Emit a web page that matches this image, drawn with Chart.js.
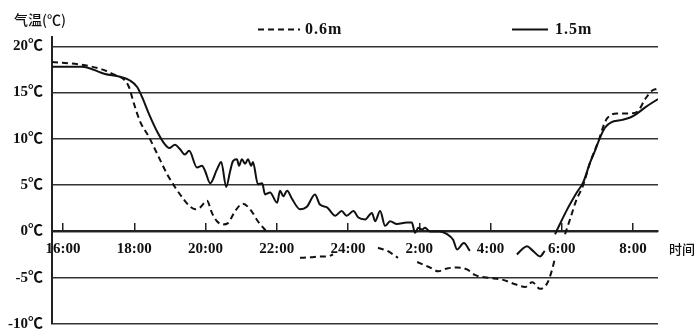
<!DOCTYPE html>
<html><head><meta charset="utf-8">
<script src="https://cdn.jsdelivr.net/npm/chart.js@4/dist/chart.umd.min.js"></script>
<style>html,body{margin:0;padding:0;background:#fff}#wrap{width:695px;height:329px}</style>
</head><body><div id="wrap"><canvas id="c" width="695" height="329"></canvas></div>
<script>
const seriesNames = ['0.6m', '1.5m'];
const yAxisTitle = '气温(℃)';
const xAxisTitle = '时间';
const tickHours = [16, 18, 20, 22, 24, 26, 28, 30, 32];
const tickLabels = ['16:00', '18:00', '20:00', '22:00', '24:00', '2:00', '4:00', '6:00', '8:00'];
const yTicks = [-10, -5, 0, 5, 10, 15, 20];

// 0.6m series (dashed); hours counted from 16:00 (24+ = next morning); null = hidden stretch
const hours06 = [15.69, 16.53, 17.09, 17.46, 17.71, 17.85, 17.99, 18.16, 18.41, 18.69, 18.92, 19.14, 19.42, 19.56, 19.71, 19.85, 20.04, 20.18, 20.32, 20.49, 20.63, 20.83, 21.05, 21.25, 21.47, 21.73,
  22.2, 22.65, 22.95, 23.2, 23.41, 23.58,
  24.2, 24.84, 25.1, 25.4,
  25.7, 25.94, 26.3, 26.53, 26.78, 27.06, 27.34, 27.56, 27.93, 28.32, 28.69, 28.97, 29.17, 29.39, 29.59, 29.73, 29.81,
  29.95, 30.09, 30.23, 30.40, 30.60, 30.79, 31.05, 31.16, 31.27, 31.55, 31.92, 32.14, 32.34, 32.53, 32.67];
const temps06 = [18.3, 18.0, 17.5, 16.9, 16.4, 15.6, 13.8, 11.9, 10.2, 8.0, 6.2, 4.8, 3.3, 2.7, 2.4, 2.6, 3.3, 2.0, 1.1, 0.76, 0.9, 2.2, 3.0, 2.4, 1.1, -0.1,
  null, -2.85, -2.8, -2.7, -2.7, -2.5,
  null, -1.77, -2.1, -2.85,
  null, -3.3, -3.9, -4.3, -4.0, -3.9, -4.1, -4.7, -5.0, -5.2, -5.7, -6.0, -5.5, -6.2, -5.6, -4.1, -2.85,
  null, -0.3, 1.3, 3.3, 5.0, 7.4, 10.0, 11.3, 12.2, 12.75, 12.75, 13.0, 14.3, 15.2, 15.4];

// 1.5m series (solid)
const hours15 = [15.69, 16.53, 17.18, 17.60, 17.88, 18.08, 18.22, 18.41, 18.64, 18.86, 18.98, 19.14, 19.28, 19.42, 19.54, 19.76, 19.90, 19.99, 20.13, 20.32, 20.44, 20.58, 20.69, 20.77, 20.88, 20.94, 21.02, 21.11, 21.19, 21.28, 21.33, 21.47, 21.59, 21.67, 21.81, 22.01, 22.09, 22.18, 22.29, 22.43, 22.65, 22.85, 23.07, 23.21, 23.41, 23.64, 23.82, 23.96, 24.15, 24.29, 24.48, 24.67, 24.76, 24.90, 25.04, 25.18, 25.37, 25.65, 25.79, 25.88, 25.97, 26.07, 26.16, 26.30, 26.58, 26.78, 26.95, 27.06, 27.25, 27.42,
  28.1, 28.74, 28.88, 29.02, 29.19, 29.39, 29.52,
  29.65, 29.81, 30.14, 30.42, 30.60, 30.79, 30.93, 31.07, 31.21, 31.40, 31.63, 31.92, 32.10, 32.34, 32.70];
const temps15 = [17.8, 17.8, 17.0, 16.7, 16.3, 15.6, 14.5, 12.7, 10.8, 9.4, 9.0, 9.35, 8.9, 8.3, 8.7, 6.9, 7.1, 6.5, 5.2, 6.7, 7.5, 4.8, 6.5, 7.6, 7.8, 7.1, 7.8, 7.3, 7.8, 7.1, 7.5, 5.1, 5.2, 4.0, 4.2, 3.1, 4.4, 3.8, 4.4, 3.5, 2.4, 2.7, 4.0, 2.9, 2.6, 1.7, 2.2, 1.7, 2.2, 1.5, 1.3, 2.0, 1.1, 2.2, 0.6, 1.1, 0.8, 0.95, 0.95, -0.15, 0.4, 0.2, 0.4, 0.0, 0.0, -0.3, -0.9, -1.95, -1.25, -2.1,
  null, -2.5, -1.95, -1.6, -2.1, -2.7, -2.1,
  null, -0.3, 2.3, 4.2, 5.3, 7.4, 8.7, 10.1, 11.2, 11.8, 12.0, 12.3, 12.7, 13.4, 14.3];

const INK = '#111';
const serifFont = "'Liberation Serif', 'Noto Sans CJK SC', serif";
const cjkFont = "'Noto Sans CJK SC', sans-serif";

const toPoints = (xs, ys) => xs.map((x, i) => ({x: x, y: ys[i]}));

const decor = {
  id: 'decor',
  afterDraw(chart) {
    const {ctx, chartArea, scales} = chart;
    ctx.save();
    ctx.fillStyle = INK;
    ctx.textBaseline = 'middle';
    ctx.textAlign = 'left';
    ctx.font = '500 14px ' + cjkFont;
    ctx.fillText(yAxisTitle, 14, 20);
    const y0 = scales.y.getPixelForValue(0);
    ctx.font = '500 13px ' + cjkFont;
    ctx.fillText(xAxisTitle, chartArea.right + 11, y0 + 18);
    // legend
    const items = [{x0: 258, x1: 300, tx: 305}, {x0: 512, x1: 548, tx: 555}];
    chart.data.datasets.forEach((ds, i) => {
      const it = items[i];
      ctx.beginPath();
      ctx.setLineDash(ds.borderDash || []);
      ctx.lineWidth = 2;
      ctx.strokeStyle = ds.borderColor;
      ctx.moveTo(it.x0, 29.5);
      ctx.lineTo(it.x1, 29.5);
      ctx.stroke();
      ctx.setLineDash([]);
      ctx.font = 'bold 16px ' + serifFont;
      ctx.letterSpacing = '1px';
      ctx.fillText(ds.label, it.tx, 30);
      ctx.letterSpacing = '0px';
    });
    ctx.restore();
  }
};

new Chart(document.getElementById('c'), {
  type: 'line',
  data: {
    datasets: [
      {label: seriesNames[0], data: toPoints(hours06, temps06), borderColor: INK, borderWidth: 2, borderDash: [6, 4], pointRadius: 0, tension: 0.4, cubicInterpolationMode: 'monotone', spanGaps: false, fill: false},
      {label: seriesNames[1], data: toPoints(hours15, temps15), borderColor: INK, borderWidth: 2, pointRadius: 0, tension: 0.4, cubicInterpolationMode: 'monotone', spanGaps: false, fill: false}
    ]
  },
  options: {
    responsive: false,
    animation: false,
    events: [],
    layout: {padding: {top: 37, right: 37, bottom: 5, left: 0}},
    plugins: {legend: {display: false}, tooltip: {enabled: false}},
    scales: {
      x: {
        type: 'linear', min: 15.69, max: 32.7, position: {y: 0},
        afterBuildTicks: s => { s.ticks = tickHours.map(v => ({value: v})); },
        afterFit: s => { s.paddingLeft = 0; s.paddingRight = 0; },
        grid: {drawOnChartArea: false, drawTicks: true, tickLength: -9, color: '#222', lineWidth: 1.5},
        border: {display: true, color: '#222', width: 2},
        ticks: {autoSkip: false, maxRotation: 0, minRotation: 0, padding: 18, color: INK,
          font: {family: serifFont, size: 15, weight: 'bold'}, callback: (v, i) => tickLabels[i]}
      },
      y: {
        type: 'linear', min: -10, max: 21,
        afterBuildTicks: s => { s.ticks = yTicks.map(v => ({value: v})); },
        afterFit: s => { s.width = 52; s.paddingTop = 0; s.paddingBottom = 0; },
        grid: {color: '#333', lineWidth: 1.5, drawTicks: false},
        border: {display: true, color: '#222', width: 2},
        ticks: {padding: 9, color: INK, font: {family: serifFont, size: 15, weight: 'bold'}, callback: v => v + '℃'}
      }
    }
  },
  plugins: [decor]
});
</script>
</body></html>
